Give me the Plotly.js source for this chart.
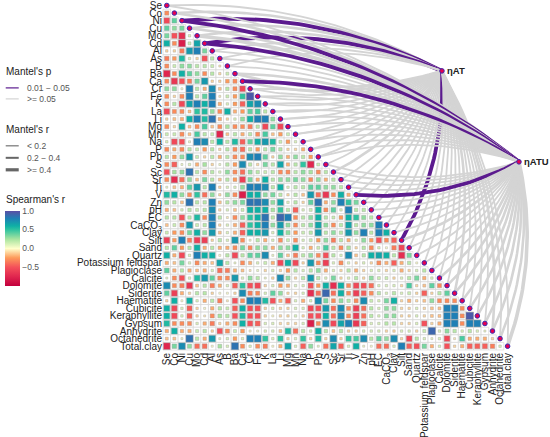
<!DOCTYPE html>
<html><head><meta charset="utf-8">
<script src="https://cdn.plot.ly/plotly-3.0.1.min.js"></script>
<style>html,body{margin:0;padding:0;background:#fff}</style></head>
<body><div id="c" style="width:550px;height:437px"></div>
<script>
const labels=["Se","Co","Ni","Cu","Mo","Cd","Al","As","B","Ba","Ca","Cr","Fe","K","La","Li","Mg","Mn","Na","P","Pb","S","Sc","Sr","Ti","V","Zn","pH","EC","CaCO<sub>3</sub>","Clay","Silt","Sand","Quartz","Potassium feldspar","Plagioclase","Calcite","Dolomite","Siderite","Haematite","Cubicite","Keraphyllite","Gypsum","Anhydrite","Octahedrite","Total.clay"];
const corr=[
[],
[-.3],
[-.55,.4],
[.4,.3,.35],
[.35,-.5,-.7,.1],
[.6,-.3,-.8,.15,.65],
[-.1,-.1,-.35,.7,.8,.35],
[-.35,-.25,.55,.1,-.1,-.5,.2],
[-.3,.15,.3,.3,.2,.2,.15,-.05],
[-.75,-.3,.6,.4,.3,-.3,.2,-.1,.15],
[-.3,-.65,-.5,-.35,.35,.7,-.1,-.1,-.25,-.3],
[.3,.3,0,.8,.2,-.2,.75,-.15,.2,-.3,-.55],
[-.3,-.1,-.3,.8,.2,.4,.8,-.05,.15,-.25,.5,.95],
[-.3,.2,-.55,.65,.8,.6,.8,-.2,.1,-.25,-.45,.65,.75],
[-.55,-.3,-.3,-.15,.5,.55,.3,-.3,.6,-.2,-.25,.4,.45,.2],
[-.1,-.15,-.2,.6,.8,.55,.85,-.2,-.1,.1,.3,.6,.8,.8,.3],
[-.3,-.1,.6,-.15,-.3,.45,-.15,-.3,.25,-.3,-.3,-.35,.2,-.55,.4,-.55],
[.15,.15,-.3,-.15,.45,.2,.15,-.75,-.15,.2,-.2,.2,-.3,.45,-.15,-.25,.15],
[.1,-.55,-.5,.05,.8,.75,.2,.6,.2,.55,-.45,.4,.6,.7,.55,.15,-.25,.1],
[-.3,-.2,-.3,.2,.15,-.25,.2,-.1,.2,-.3,-.4,.2,-.25,.2,.35,.2,-.1,-.1,-.2],
[.2,-.25,.3,.7,.15,-.1,.2,-.2,.2,-.3,-.3,.75,.8,.4,-.1,.3,-.2,.3,.2,-.25],
[-.3,-.45,.05,.1,-.2,.25,-.1,.05,.2,-.25,.75,.2,-.1,.35,.2,.65,-.2,.2,.5,-.75,.15],
[-.5,.25,.3,.85,.2,-.3,.2,.1,.3,-.3,-.4,.3,.2,.15,.2,-.3,-.3,.2,.3,.25,-.3,.2],
[-.3,-.7,-.4,.3,-.15,.35,.2,-.15,.2,-.25,-.6,.35,-.2,.6,.2,.3,.3,.35,.3,-.3,.3,-.2,.2],
[.05,-.15,-.2,.4,.7,.2,.8,-.1,.1,.1,.3,.8,.8,.75,.2,.6,.1,.2,.2,.4,.4,.3,.3,.2],
[.55,.6,.3,-.3,.5,-.4,.3,-.1,.3,-.3,-.8,.6,.6,.3,.35,.2,-.1,.2,-.15,.7,-.4,-.65,-.3,.6,-.2],
[.3,.2,-.15,.85,.2,.2,.8,-.15,.2,.3,.35,.85,.85,.75,.3,.65,.1,.2,-.1,.4,.85,-.2,.3,.8,.5,.35],
[-.2,-.15,.1,.2,.15,.2,.75,-.1,.1,-.15,.15,.6,.6,.6,.25,.5,.2,-.45,.1,.15,.6,-.3,.4,.1,.8,.2,.2],
[.2,.2,-.5,.2,.55,-.3,.8,.2,-.05,-.3,.3,.5,.6,.85,.2,.9,.8,-.3,.2,.3,.6,.2,.15,-.25,.6,.5,.3,.2],
[-.15,.15,-.3,.7,.15,.2,.8,-.1,.1,-.2,-.45,.5,.6,.8,.3,.7,.3,-.3,.2,.3,.65,.3,-.3,.2,.65,.2,.3,.3,.8],
[.15,-.25,-.3,.35,.6,.3,.7,-.15,.1,-.2,-.45,.6,.6,.7,.1,.6,.3,-.25,.15,.2,.7,.2,.3,.2,.7,.3,.8,.2,.8,.6],
[-.6,-.25,.8,-.35,-.6,-.6,-.1,.2,.1,.7,-.3,.05,.2,-.2,.1,-.3,.15,-.3,.1,.15,-.25,.3,-.35,.2,-.2,.1,.3,-.25,-.5,-.3,-.45],
[.2,.4,-.25,.2,.6,-.2,.2,-.2,-.2,-.3,.35,-.3,.3,.3,-.2,.3,.3,.6,.1,-.2,.15,.45,.2,-.3,.25,-.1,.2,-.3,.1,0,-.35,-.55],
[.6,-.2,-.55,.1,.8,.6,.6,0,.2,-.55,.2,.4,.4,.75,.05,.4,-.15,-.35,.2,.3,-.3,-.5,.2,.1,.75,-.15,.2,.6,.65,.6,.2,-.7,.35],
[-.2,-.15,.35,.1,-.3,-.2,-.15,.65,.2,.05,-.3,-.2,.1,.15,-.2,-.55,.6,-.55,-.1,.7,-.3,-.6,.1,-.3,.1,-.1,.1,-.1,-.3,-.2,-.45,-.2,.2,0],
[.4,-.2,.2,-.2,-.15,-.2,.1,-.4,-.35,-.2,-.15,-.05,.05,-.1,.1,-.1,-.25,.2,.1,.2,.3,-.2,.1,-.1,.2,-.2,-.1,.1,.1,-.1,.1,-.2,-.1,.1,.2],
[.05,-.3,-.5,.1,.55,.7,.4,-.3,-.3,.7,.1,.3,.2,.05,-.1,.75,.3,-.1,.2,.7,.2,.1,.35,-.1,.1,.2,-.1,.3,.15,.15,-.1,.1,.2,.35,-.2,.1],
[.75,-.3,-.35,-.65,-.15,.2,-.35,-.2,.1,-.45,.5,-.5,-.55,-.1,.1,-.25,-.2,.1,.1,-.5,-.25,.6,-.7,.6,-.3,-.55,-.5,-.4,.1,.1,.1,-.1,.45,-.1,-.15,.4,-.3],
[.4,-.6,-.2,-.1,.2,.2,-.1,0,0,-.1,.75,-.35,-.3,.1,.4,.3,-.1,-.1,.1,-.7,-.4,.9,-.4,.6,-.3,-.6,-.45,-.3,.2,.1,.2,.1,.15,-.1,-.45,-.1,.2,.4],
[-.1,.6,0,.6,.1,-.2,.2,-.35,-.05,-.5,-.3,.8,.8,.55,-.5,-.2,-.45,.1,-.2,.1,.75,.35,-.3,.3,.2,-.3,.75,.15,.1,.35,.6,-.1,-.2,-.1,-.15,.3,-.3,-.3,-.3],
[.6,-.55,.1,-.45,-.1,0,-.2,.2,.15,-.45,.6,-.5,-.5,-.1,.1,-.1,-.1,.1,.1,-.55,-.5,.7,-.4,.75,-.3,-.6,-.4,.2,.1,.3,.3,-.1,-.1,.1,-.1,-.15,-.15,.8,.8,-.3],
[.6,-.55,.1,-.45,-.1,-.05,-.3,.25,.2,-.5,.55,-.5,-.5,-.1,0,-.1,-.1,.1,-.1,-.5,-.5,.6,-.4,.75,-.3,-.6,-.4,.2,.1,.3,.3,-.1,-.1,.1,-.1,-.15,-.15,.8,.8,-.3,.95],
[.55,-.3,-.3,-.3,.1,-.2,-.35,-.1,-.2,-.3,.6,-.5,-.45,.1,.1,-.1,-.1,-.1,.1,-.8,-.3,.75,-.55,.65,.8,-.65,-.45,.1,.1,.2,.2,-.1,-.1,.1,-.5,-.1,-.2,.8,.8,-.3,.8,.8],
[-.2,.6,-.2,-.2,.15,.2,-.1,-.5,-.3,.15,-.25,0,0,.1,.1,-.15,.55,-.4,.2,.1,.6,.2,-.15,.2,-.1,-.1,.1,.1,.1,-.1,-.1,.1,.1,-.1,.15,.9,.1,.3,.2,.1,.2,.1,.05],
[-.15,-.15,.05,.85,.2,-.2,.7,.05,.1,-.25,.1,.8,.8,.5,.1,.5,-.1,.1,.5,-.1,.55,-.1,.75,-.1,.5,.45,.75,.2,.4,.3,.75,-.1,-.55,.2,.1,.05,.1,-.55,-.05,.45,-.2,-.2,-.2,-.1],
[-.75,.35,.75,.3,-.4,-.4,0,.25,.1,.85,-.3,.1,-.3,-.35,0,-.2,.65,.1,-.45,.3,.05,-.4,.65,-.45,.1,.6,.05,0,-.4,-.4,.1,.8,-.45,-.5,.35,-.2,.1,-.5,-.1,-.2,-.45,-.45,-.45,-.35,.1]
];
// Mantel's r class per variable (1: <0.2, 2: 0.2-0.4, 3: >=0.4)
const mantelAT_r=[1,2,3,2,2,3,1,1,1,2,2,1,1,1,1,1,1,1,1,1,1,1,2,1,1,1,1,1,1,1,1,3,1,1,1,1,1,1,2,1,1,1,1,2,1,1];
const mantelATU_r=[1,2,3,2,3,3,1,1,1,2,3,1,1,1,1,1,1,1,1,1,1,1,1,1,1,3,1,1,1,1,1,2,1,1,1,1,2,2,2,2,2,2,2,2,2,3];
// variables with Mantel's p in 0.01-0.05
const sigAT=["Ni","Cd","Silt"];
const sigATU=["Ni","Cd","Ca","V"];
const nodes=[{name:"\u03b7AT",x:36.33,y:8.64,r:mantelAT_r,sig:sigAT},{name:"\u03b7ATU",x:46.5,y:20.65,r:mantelATU_r,sig:sigATU}];
const rWidth={1:1.8,2:2.6,3:3.6};
const GREY="#d4d4d4",PURPLE="#5b1a8e";
const CELL=7.58,W=550,H=437,L=163.2,T=0,B=86.6;
const PX=x=>(x-L)/(W-L), PY=y=>1-(y-T)/(H-T-B);
const cscale=[[0,'#c2003d'],[.125,'#e0264f'],[.25,'#f4505a'],[.375,'#fd9a5a'],[.5,'#ffffcc'],[.625,'#a8e4a0'],[.75,'#2fc3a0'],[.8,'#0fb0a5'],[.9,'#1f7fb5'],[1,'#5a4fa5']];

function curve(x0,y0,x1,y1,k){
  const dx=x1-x0,dy=y1-y0,len=Math.hypot(dx,dy);
  const s=dy>=0?-1:1;
  const nx=Math.abs(dy)/len,ny=s*dx/len;
  const cx=(x0+x1)/2+nx*2*k*len,cy=(y0+y1)/2+ny*2*k*len;
  const xs=[],ys=[];
  for(let i=0;i<=32;i++){const t=i/32,u=1-t;
    xs.push(u*u*x0+2*u*t*cx+t*t*x1);ys.push(u*u*y0+2*u*t*cy+t*t*y1);}
  return {xs,ys};
}
const traces=[];
nodes.forEach(n=>{labels.forEach((lab,i)=>{
  const c=curve(i,i,n.x,n.y,.072);
  const sig=n.sig.some(s=>lab===s);
  traces.push({type:'scatter',mode:'lines',x:c.xs,y:c.ys,hoverinfo:'skip',showlegend:false,cliponaxis:false,
    line:{color:sig?PURPLE:GREY,width:sig?3.8:rWidth[n.r[i]]}});
});});
const gx=[],gy=[],vx=[],vy=[],vc=[],vs=[];
corr.forEach((row,j)=>row.forEach((v,i)=>{gx.push(i);gy.push(j);vx.push(i);vy.push(j);vc.push(v);vs.push(Math.max(2,7.7*Math.sqrt(Math.abs(v))));}));
traces.push({type:'scatter',mode:'markers',x:gx,y:gy,hoverinfo:'skip',showlegend:false,cliponaxis:false,
  marker:{symbol:'square',size:CELL,color:'#ffffff',opacity:1,line:{color:'#d2d2d2',width:.6}}});
traces.push({type:'scatter',mode:'markers',x:vx,y:vy,showlegend:false,cliponaxis:false,
  marker:{symbol:'square',size:vs,color:vc,opacity:1,cmin:-1,cmax:1,colorscale:cscale,line:{color:'#9a9a9a',width:.4},
    colorbar:{xref:'paper',yref:'paper',x:PX(5),xanchor:'left',y:PY(286),yanchor:'bottom',lenmode:'pixels',len:75,thicknessmode:'pixels',thickness:15,xpad:0,ypad:0,outlinewidth:0,ticks:'',tickvals:[-.5,0,.5,1],ticktext:['\u22120.5','0.0','0.5','1.0'],tickfont:{size:8.5,color:'#555',family:'Liberation Sans'}}}});
traces.push({type:'scatter',mode:'markers',x:labels.map((_,i)=>i).concat(nodes.map(n=>n.x)),y:labels.map((_,i)=>i).concat(nodes.map(n=>n.y)),hoverinfo:'skip',showlegend:false,cliponaxis:false,
  marker:{symbol:'circle',size:4.6,color:'#e6004f',opacity:1,line:{color:'#3a2bb0',width:1}}});

const ann=(t,x,y,size,color,extra)=>Object.assign({text:t,xref:'paper',yref:'paper',x:PX(x),y:PY(y),xanchor:'left',yanchor:'middle',showarrow:false,font:{family:'Liberation Sans',size,color}},extra||{});
const annotations=[
 ann("Mantel's p",4,72,10,'#222'),ann("0.01 \u2212 0.05",25,88,8.5,'#555'),ann(">= 0.05",25,99,8.5,'#555'),
 ann("Mantel's r",4,130,10,'#222'),ann("< 0.2",25,146,8.5,'#555'),ann("0.2 \u2212 0.4",25,158,8.5,'#555'),ann(">= 0.4",25,170,8.5,'#555'),
 ann("Spearman's r",4,200,10,'#222'),
 ann("<b>"+nodes[0].name+"</b>",445,71,9.5,'#222'),ann("<b>"+nodes[1].name+"</b>",522,162,9.5,'#222')
];
const legLine=(y,c,w)=>({type:'line',xref:'paper',yref:'paper',x0:PX(6),x1:PX(19),y0:PY(y),y1:PY(y),line:{color:c,width:w}});
const shapes=[legLine(88,PURPLE,1.2),legLine(99,GREY,1.2),legLine(146,'#666',1.1),legLine(158,'#666',2),legLine(170,'#666',3.2)];
const tick=labels.map((_,i)=>i);
const yTop=-5.5/7.58, yBot=(350.4-5.5)/7.58;
const layout={width:W,height:H,margin:{l:L,r:0,t:T,b:B,pad:0,autoexpand:false},paper_bgcolor:'#fff',plot_bgcolor:'#fff',showlegend:false,
 xaxis:{range:[-.5,(W-L)/7.57-.5],tickmode:'array',tickvals:tick,ticktext:labels,tickangle:-90,ticklabeloverflow:'allow',showgrid:false,zeroline:false,showline:false,ticks:'',tickfont:{family:'Liberation Sans',size:10,color:'#222'},automargin:false},
 yaxis:{range:[yBot,yTop],tickmode:'array',tickvals:tick,ticktext:labels,ticklabeloverflow:'allow',showgrid:false,zeroline:false,showline:false,ticks:'',tickfont:{family:'Liberation Sans',size:10,color:'#222'},automargin:false},
 annotations,shapes};
Plotly.newPlot('c',traces,layout,{displayModeBar:false,staticPlot:true});
</script></body></html>
